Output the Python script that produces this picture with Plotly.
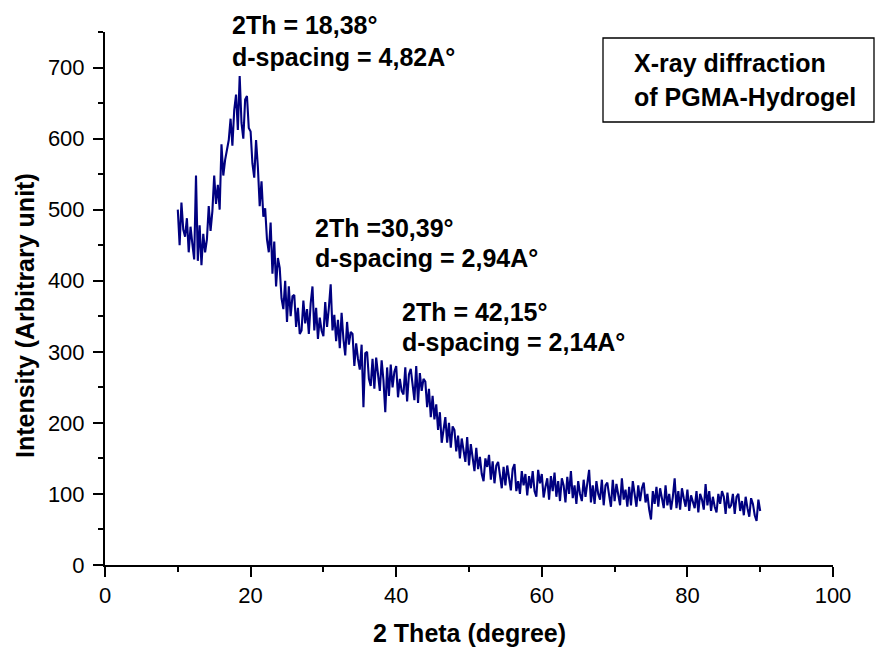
import plotly.graph_objects as go

# ---------------- data ----------------
THETA_START = 10.0   # first 2-theta of the scan (degree)
THETA_STEP = 0.25    # scan step (degree)

INTENSITY = [
    500, 450, 510, 472,   # 10
    462, 488, 440, 476,   # 11
    452, 430, 548, 428,   # 12
    478, 422, 466, 440,   # 13
    458, 505, 470, 498,   # 14
    548, 508, 535, 500,   # 15
    592, 548, 570, 585,   # 16
    598, 628, 590, 640,   # 17
    662, 612, 688, 622,   # 18
    600, 655, 660, 615,   # 19
    610, 565, 545, 598,   # 20
    560, 505, 540, 490,   # 21
    502, 458, 440, 482,   # 22
    410, 455, 392, 432,   # 23
    418, 375, 360, 400,   # 24
    342, 392, 350, 378,   # 25
    380, 335, 362, 325,   # 26
    330, 372, 340, 360,   # 27
    325, 368, 392, 330,   # 28
    362, 318, 348, 330,   # 29
    322, 370, 335, 362,   # 30
    395, 330, 352, 315,   # 31
    345, 305, 355, 318,   # 32
    295, 342, 310, 328,   # 33
    325, 280, 312, 290,   # 34
    275, 310, 222, 298,   # 35
    300, 262, 252, 290,   # 36
    248, 292, 265, 245,   # 37
    288, 260, 215, 278,   # 38
    238, 282, 250, 272,   # 39
    280, 236, 262, 245,   # 40
    240, 278, 230, 268,   # 41
    276, 250, 232, 280,   # 42
    228, 270, 245, 262,   # 43
    258, 222, 248, 208,   # 44
    238, 205, 226, 190,   # 45
    215, 172, 190, 208,   # 46
    172, 200, 165, 195,   # 47
    190, 160, 182, 150,   # 48
    178, 158, 145, 180,   # 49
    140, 170, 150, 132,   # 50
    165, 135, 152, 128,   # 51
    118, 150, 138, 155,   # 52
    120, 146, 115, 140,   # 53
    145, 122, 108, 138,   # 54
    112, 140, 120, 105,   # 55
    135, 142, 104, 118,   # 56
    100, 132, 112, 128,   # 57
    98, 125, 108, 132,    # 58
    104, 96, 134, 115,    # 59
    128, 95, 110, 122,    # 60
    92, 125, 104, 130,    # 61
    96, 118, 90, 122,     # 62
    112, 88, 124, 100,    # 63
    132, 94, 112, 86,     # 64
    118, 100, 90, 120,    # 65
    96, 118, 134, 88,     # 66
    112, 86, 118, 100,    # 67
    92, 120, 84, 112,     # 68
    116, 98, 82, 120,     # 69
    90, 114, 96, 84,      # 70
    122, 92, 106, 82,     # 71
    110, 84, 118, 96,     # 72
    82, 112, 90, 108,     # 73
    116, 88, 100, 78,     # 74
    64, 104, 86, 110,     # 75
    82, 108, 92, 80,      # 76
    112, 84, 100, 78,     # 77
    96, 122, 80, 104,     # 78
    78, 108, 94, 82,      # 79
    106, 76, 98, 88,      # 80
    80, 104, 74, 100,     # 81
    92, 78, 114, 84,      # 82
    104, 76, 96, 82,      # 83
    74, 100, 86, 104,     # 84
    96, 72, 102, 80,      # 85
    84, 100, 72, 96,      # 86
    100, 76, 90, 70,      # 87
    96, 80, 68, 94,       # 88
    86, 70, 62, 92,       # 89
    76,                   # 90
]
TWO_THETA = [round(THETA_START + i * THETA_STEP, 2) for i in range(len(INTENSITY))]

X_TICKS = [0, 20, 40, 60, 80, 100]
Y_TICKS = [0, 100, 200, 300, 400, 500, 600, 700]
X_RANGE = [0, 100]
Y_RANGE = [0, 750]

X_TITLE = "2 Theta (degree)"
Y_TITLE = "Intensity (Arbitrary unit)"
PEAK_LABELS = [
    ("2Th = 18,38°", 230, 25),
    ("d-spacing = 4,82A°", 230, 57),
    ("2Th =30,39°", 313, 228),
    ("d-spacing = 2,94A°", 313, 258),
    ("2Th = 42,15°", 400, 312),
    ("d-spacing = 2,14A°", 400, 342),
]
BOX_LINES = [("X-ray diffraction", 632, 63), ("of PGMA-Hydrogel", 632, 97)]

# ---------------- layout geometry (page pixels) ----------------
W, H = 883, 647
PLOT_L, PLOT_R, PLOT_T, PLOT_B = 105, 833, 32, 565   # plot area on the page
PW, PH = PLOT_R - PLOT_L, PLOT_B - PLOT_T
ML, MT = PLOT_L, PLOT_T
MR, MB = W - PLOT_R, H - PLOT_B


def px(xp):
    return (xp - PLOT_L) / PW


def py(yp):
    return (PLOT_B - yp) / PH


FONT = "Liberation Sans, Arial, Helvetica, sans-serif"
LINE_COLOR = "#000080"

fig = go.Figure()
fig.add_trace(go.Scatter(
    x=TWO_THETA, y=INTENSITY, mode="lines",
    line=dict(color=LINE_COLOR, width=2.1),
    showlegend=False, hoverinfo="x+y",
))

axis_common = dict(
    showline=True, linewidth=2, linecolor="black",
    ticks="outside", ticklen=10, tickwidth=2, tickcolor="black",
    showgrid=False, zeroline=False,
    tickfont=dict(family=FONT, size=22, color="black"),
)

fig.update_xaxes(range=X_RANGE, tickvals=X_TICKS, ticklabelstandoff=0,
                 minor=dict(ticks="outside", ticklen=5, tickwidth=2, tickcolor="black", dtick=10),
                 **axis_common)
fig.update_yaxes(range=Y_RANGE, tickvals=Y_TICKS, ticklabelstandoff=4,
                 minor=dict(ticks="outside", ticklen=5, tickwidth=2, tickcolor="black", dtick=50),
                 **axis_common)

annotations = []
bold = dict(family=FONT, size=25, color="black")
for text, x0, y0 in PEAK_LABELS + BOX_LINES:
    annotations.append(dict(
        text="<b>%s</b>" % text, xref="paper", yref="paper",
        x=px(x0), y=py(y0), xanchor="left", yanchor="middle",
        showarrow=False, font=bold,
    ))
annotations.append(dict(
    text="<b>%s</b>" % X_TITLE, xref="paper", yref="paper",
    x=px(469), y=py(633), xanchor="center", yanchor="middle",
    showarrow=False, font=dict(family=FONT, size=25, color="black"),
))
annotations.append(dict(
    text="<b>%s</b>" % Y_TITLE, xref="paper", yref="paper",
    x=px(25), y=py(316), xanchor="center", yanchor="middle", textangle=-90,
    showarrow=False, font=dict(family=FONT, size=25, color="black"),
))

fig.update_layout(
    width=W, height=H,
    margin=dict(l=ML, r=MR, t=MT, b=MB, autoexpand=False),
    paper_bgcolor="white", plot_bgcolor="white",
    annotations=annotations,
    shapes=[dict(type="rect", xref="paper", yref="paper",
                 x0=px(603), x1=px(874), y0=py(122), y1=py(38),
                 line=dict(color="black", width=1.3), fillcolor="rgba(0,0,0,0)")],
)

# remove the browser's default 8px page margin so the figure fills the window exactly
fig.write_html("out.html", config={"displayModeBar": False},
               post_script="document.body.style.margin='0';document.body.style.overflow='hidden';")
